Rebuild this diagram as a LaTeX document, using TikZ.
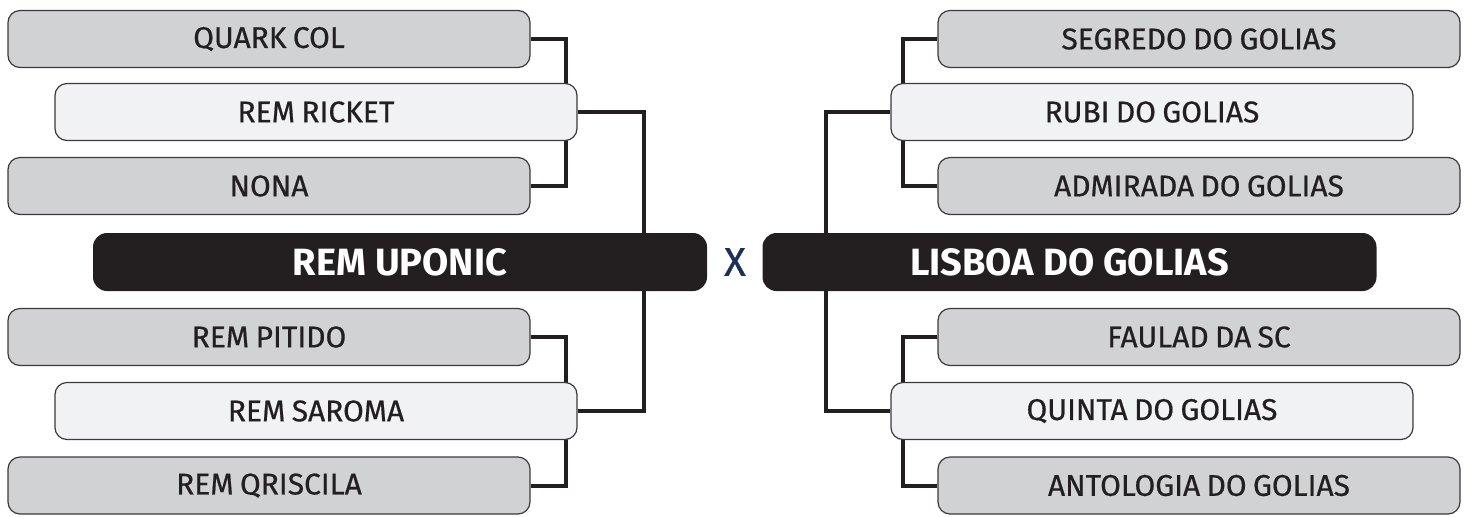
\documentclass[tikz,border=0pt]{standalone}
\usepackage{fontspec}
\setmainfont{Fira Sans}
\newfontfamily\teamfont[FakeBold=0.6,WordSpace=0.8]{Fira Sans}
\usetikzlibrary{backgrounds}
\definecolor{boxgray}{HTML}{D1D2D4}
\definecolor{boxlight}{HTML}{F1F2F3}
\definecolor{boxdark}{HTML}{231F20}
\definecolor{boxline}{HTML}{3A3A3C}
\definecolor{versus}{HTML}{1C2F5A}
\begin{document}
\begin{tikzpicture}[x=0.5pt,y=-0.5pt,
  team/.style={draw=boxline, line width=0.6pt, rounded corners=6pt,
    minimum width=261pt, minimum height=28.5pt, inner sep=0pt,
    text=boxdark, font=\teamfont\fontsize{15}{15}\selectfont},
  loser/.style={team, fill=boxgray},
  winner/.style={team, fill=boxlight},
  finalist/.style={fill=boxdark, rounded corners=7pt, minimum width=307pt,
    minimum height=29pt, inner sep=0pt, text=white,
    font=\bfseries\fontsize{19}{19}\selectfont},
  bracket/.style={draw=boxdark, line width=2pt}]
\useasboundingbox (0,0) rectangle (1469,516);

% left side
\node[loser]  (quark)    at (269,39)    {QUARK COL};
\node[winner] (ricket)   at (316,112)   {REM RICKET};
\node[loser]  (nona)     at (269,186)   {NONA};
\node[loser]  (pitido)   at (269,337)   {REM PITIDO};
\node[winner] (saroma)   at (316,411)   {REM SAROMA};
\node[loser]  (qriscila) at (269,485.5) {REM QRISCILA};

% right side
\node[loser]  (segredo)   at (1199,39)    {SEGREDO DO GOLIAS};
\node[winner] (rubi)      at (1152,112)   {RUBI DO GOLIAS};
\node[loser]  (admirada)  at (1199,186)   {ADMIRADA DO GOLIAS};
\node[loser]  (faulad)    at (1199,337)   {FAULAD DA SC};
\node[winner] (quinta)    at (1152,411)   {QUINTA DO GOLIAS};
\node[loser]  (antologia) at (1199,485.5) {ANTOLOGIA DO GOLIAS};

% final
\node[finalist] (uponic) at (400,262)    {REM UPONIC};
\node[finalist] (lisboa) at (1069.5,262) {LISBOA DO GOLIAS};
\node[text=versus, font=\teamfont\fontsize{20}{20}\selectfont] (x) at (735,262) {X};

\begin{scope}[on background layer]
  \draw[bracket] (quark.east)  -- ++(35,0) |- (nona.east);
  \draw[bracket] (pitido.east) -- ++(35,0) |- (qriscila.east);
  \draw[bracket] (ricket.east) -- ++(66,0) |- (saroma.east);
  \draw[bracket] (segredo.west) -- ++(-34,0) |- (admirada.west);
  \draw[bracket] (faulad.west)  -- ++(-34,0) |- (antologia.west);
  \draw[bracket] (rubi.west)    -- ++(-64,0) |- (quinta.west);
\end{scope}
\end{tikzpicture}
\end{document}
